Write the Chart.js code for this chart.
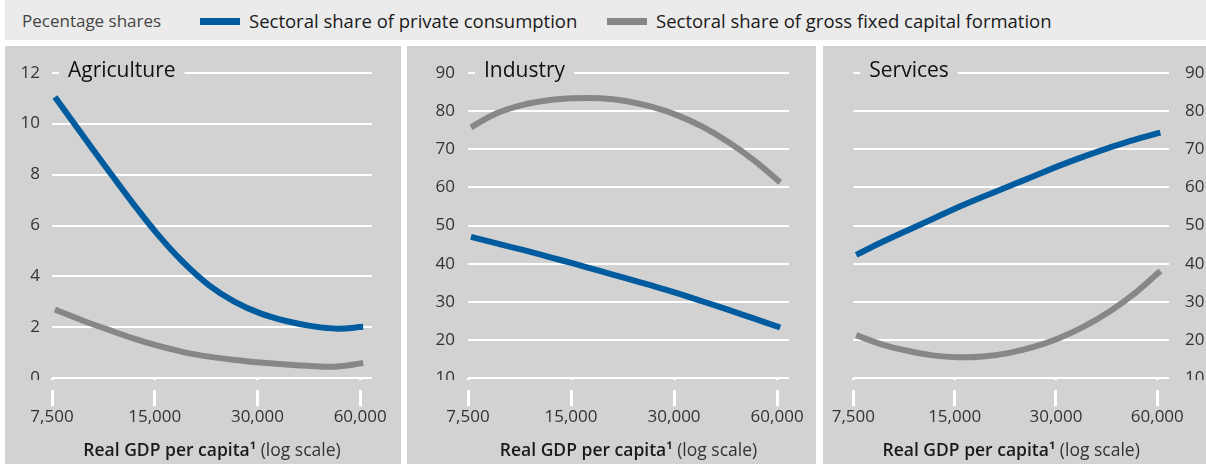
<!DOCTYPE html>
<html>
<head>
<meta charset="utf-8">
<script src="https://cdn.jsdelivr.net/npm/chart.js@4.4.1/dist/chart.umd.min.js"></script>
<style>
html, body { margin: 0; padding: 0; background: #fff; overflow: hidden; }
#page { position: relative; width: 1206px; height: 464px; overflow: hidden; font-family: "Open Sans", sans-serif; }
#header { position: absolute; left: 5px; top: 0; width: 1201px; height: 40px; background: #ebebeb; }
.hdr { position: absolute; top: 1px; line-height: 40px; font-size: 18.5px; font-weight: 500; white-space: nowrap; color: #1a1a1a; }
.swatch { position: absolute; top: 18px; width: 40px; height: 7px; }
.panel { position: absolute; top: 46px; height: 418px; background: #d2d2d2; overflow: hidden; }
canvas { display: block; }
</style>
</head>
<body>
<div id="page">
  <div id="header"></div>
  <span class="hdr" style="left:22px; color:#444; font-size:17px; font-weight:400;">Pecentage shares</span>
  <div class="swatch" style="left:200px; background:#005b9f;"></div>
  <span class="hdr" style="left:249px;">Sectoral share of private consumption</span>
  <div class="swatch" style="left:607px; background:#878787;"></div>
  <span class="hdr" style="left:656px;">Sectoral share of gross fixed capital formation</span>

  <div class="panel" style="left:5px; width:396px;"><canvas id="agri" width="396" height="418"></canvas></div>
  <div class="panel" style="left:407px; width:409px;"><canvas id="ind" width="409" height="418"></canvas></div>
  <div class="panel" style="left:823px; width:407px;"><canvas id="serv" width="407" height="418"></canvas></div>
</div>

<script>
// real GDP per capita (log scale)
var gdp = [7650, 9100, 10850, 12900, 15300, 18200, 21650, 25750, 30600, 36400, 43300, 51500, 61250];
var gdpTicks = [7500, 15000, 30000, 60000];

// Agriculture
var agriConsumption = [11.05, 9.65, 8.25, 6.9, 5.65, 4.55, 3.65, 3.0, 2.55, 2.25, 2.05, 1.95, 2.02];
var agriInvestment  = [2.7, 2.3, 1.93, 1.58, 1.28, 1.03, 0.85, 0.72, 0.62, 0.54, 0.48, 0.46, 0.6];

// Industry
var indConsumption = [47, 45.3, 43.6, 41.8, 40, 38.1, 36.2, 34.3, 32.3, 30.1, 27.9, 25.6, 23.3];
var indInvestment  = [75.7, 79.4, 81.6, 82.8, 83.3, 83.3, 82.6, 81.1, 78.9, 75.8, 71.8, 67.0, 61.3];

// Services
var servConsumption = [42.3, 45.6, 48.7, 51.7, 54.7, 57.5, 60.2, 62.9, 65.6, 68.1, 70.4, 72.5, 74.3];
var servInvestment  = [21.3, 18.9, 17.2, 16.0, 15.5, 15.7, 16.6, 18.2, 20.5, 23.6, 27.5, 32.3, 38.1];

var blue = '#005b9f';
var grey = '#878787';
var panelBg = '#d2d2d2';
var font = '"Open Sans", sans-serif';

function toPoints(xs, ys) {
    var pts = [];
    for (var i = 0; i < xs.length; i++) {
        pts.push({x: xs[i], y: ys[i]});
    }
    return pts;
}

// panel title on the top gridline; gap above the x tick marks; axis title below
var decor = {
    id: 'decor',
    beforeDatasetsDraw: function(chart, args, opts) {
        var ctx = chart.ctx;
        var area = chart.chartArea;
        var yTop = chart.scales.y.getPixelForValue(chart.scales.y.max);
        ctx.save();
        // the x tick marks start 12px below the plot: hide their top part
        ctx.fillStyle = panelBg;
        ctx.fillRect(0, Math.round(area.bottom) + 2, chart.width, 10);
        ctx.font = '500 21px ' + font;
        var w = ctx.measureText(opts.title).width;
        ctx.fillRect(area.left + 7, yTop - 3, w + 18, 6);
        ctx.fillStyle = '#111';
        ctx.textBaseline = 'alphabetic';
        ctx.fillText(opts.title, area.left + 16, yTop + 4);
        ctx.restore();
    },
    afterDraw: function(chart) {
        var ctx = chart.ctx;
        var area = chart.chartArea;
        ctx.save();
        // axis title: bold part plus regular part, centred under the plot
        var boldTxt = 'Real GDP per capita¹';
        var regTxt = ' (log scale)';
        ctx.font = '600 17.5px ' + font;
        var w1 = ctx.measureText(boldTxt).width;
        ctx.font = '400 17.5px ' + font;
        var w2 = ctx.measureText(regTxt).width;
        var x0 = (area.left + area.right) / 2 - (w1 + w2) / 2;
        var y0 = area.bottom + 73;
        ctx.textBaseline = 'middle';
        ctx.fillStyle = '#1a1a1a';
        ctx.font = '600 17.5px ' + font;
        ctx.fillText(boldTxt, x0, y0);
        ctx.fillStyle = '#333';
        ctx.font = '400 17.5px ' + font;
        ctx.fillText(regTxt, x0 + w1, y0);
        ctx.restore();
    }
};

function makePanel(id, cfg) {
    var ctx = document.getElementById(id).getContext('2d');
    return new Chart(ctx, {
        type: 'line',
        data: {
            datasets: [{
                label: 'Sectoral share of private consumption',
                data: toPoints(gdp, cfg.consumption),
                borderColor: blue,
                borderWidth: 6,
                borderCapStyle: 'butt',
                pointRadius: 0,
                tension: 0.4,
                clip: false
            }, {
                label: 'Sectoral share of gross fixed capital formation',
                data: toPoints(gdp, cfg.investment),
                borderColor: grey,
                borderWidth: 6,
                borderCapStyle: 'butt',
                pointRadius: 0,
                tension: 0.4,
                clip: false
            }]
        },
        options: {
            responsive: false,
            animation: false,
            events: [],
            layout: { padding: cfg.padding },
            plugins: {
                legend: { display: false },
                tooltip: { enabled: false },
                decor: { title: cfg.title }
            },
            scales: {
                x: {
                    type: 'logarithmic',
                    min: 7500,
                    max: 65000,
                    afterBuildTicks: function(scale) {
                        scale.ticks = gdpTicks.map(function(v) { return {value: v}; });
                    },
                    afterFit: function(scale) {
                        scale.height = 85.7;
                        scale.paddingLeft = 0;
                        scale.paddingRight = 0;
                    },
                    grid: {
                        display: true,
                        drawOnChartArea: false,
                        drawTicks: true,
                        tickLength: 28,
                        tickColor: '#ffffff',
                        tickWidth: 3
                    },
                    border: { display: false },
                    ticks: {
                        autoSkip: false,
                        maxRotation: 0,
                        padding: 1,
                        color: '#333',
                        font: { family: font, size: 17 },
                        callback: function(v) { return Number(v).toLocaleString('en-US'); }
                    }
                },
                y: {
                    position: cfg.yPos,
                    min: cfg.yMin,
                    max: cfg.yMax,
                    afterFit: function(scale) {
                        scale.width = cfg.yWidth;
                        scale.paddingTop = 0;
                        scale.paddingBottom = 0;
                    },
                    grid: { color: '#ffffff', lineWidth: 2, drawTicks: false },
                    border: { display: false },
                    ticks: {
                        stepSize: cfg.yStep,
                        padding: cfg.yPad,
                        color: '#333',
                        font: { family: font, size: 17 }
                    }
                }
            }
        },
        plugins: [decor]
    });
}

makePanel('agri', {
    title: 'Agriculture',
    consumption: agriConsumption, investment: agriInvestment,
    yMin: 0, yMax: 12, yStep: 2, yPos: 'left', yWidth: 47, yPad: 12,
    padding: {top: 26.7, right: 29, left: 0, bottom: 0}
});
makePanel('ind', {
    title: 'Industry',
    consumption: indConsumption, investment: indInvestment,
    yMin: 10, yMax: 90, yStep: 10, yPos: 'left', yWidth: 61, yPad: 13,
    padding: {top: 26.7, right: 27, left: 0, bottom: 0}
});
makePanel('serv', {
    title: 'Services',
    consumption: servConsumption, investment: servInvestment,
    yMin: 10, yMax: 90, yStep: 10, yPos: 'right', yWidth: 61, yPad: 16,
    padding: {top: 26.7, right: 0, left: 30.3, bottom: 0}
});
</script>
</body>
</html>
